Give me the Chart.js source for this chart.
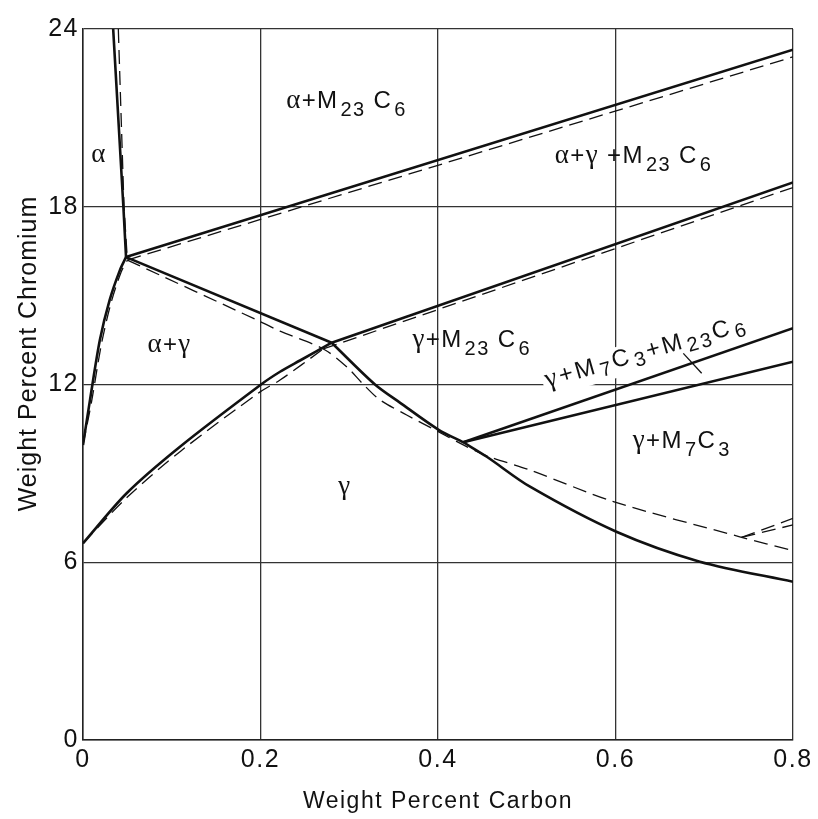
<!DOCTYPE html>
<html>
<head>
<meta charset="utf-8">
<script src="https://cdn.jsdelivr.net/npm/chart.js@4.4.1/dist/chart.umd.min.js"></script>
<style>
  html, body { margin: 0; padding: 0; background: #fff; }
</style>
</head>
<body>
<canvas id="chart" width="818" height="819"></canvas>
<script>
// 坐标轴刻度
const xTicks = ['0', '0.2', '0.4', '0.6', '0.8'];
const yTicks = ['0', '6', '12', '18', '24'];

// 实线：相界 [碳, 铬]
const alphaSolid = [[0.034, 24], [0.0455, 18], [0.0485, 16.3]];
const alphaM23Solid = [[0.0485, 16.3], [0.8, 23.3]];
const alphaGammaSolid = [[0, 9.96], [0.0079, 11.48], [0.019, 13.5], [0.030, 14.85], [0.0417, 15.87], [0.0485, 16.3]];
const triLineSolid = [[0.0485, 16.3], [0.2802, 13.41]];
const gammaM23Solid = [[0.2802, 13.41], [0.8, 18.82]];
const gammaRiseSolid = [[0, 6.64], [0.0492, 8.33], [0.1093, 9.9], [0.2006, 12.0], [0.222, 12.43], [0.2445, 12.81], [0.2802, 13.41]];
const gammaFallSolidA = [[0.2802, 13.41], [0.329, 12.0], [0.357, 11.39], [0.4003, 10.48], [0.4285, 10.05]];
const gammaFallSolidB = [[0.4285, 10.05], [0.455, 9.56], [0.5037, 8.55], [0.601, 7.03], [0.695, 6.02], [0.8, 5.34]];
const m7UpperSolid = [[0.4285, 10.05], [0.8, 13.9]];
const m7LowerSolid = [[0.4285, 10.05], [0.8, 12.77]];
const pointerSolid = [[0.6764, 13.05], [0.6971, 12.38]];

// 虚线
const alphaDashed = [[0.0398, 24], [0.0462, 18], [0.05, 16.2]];
const alphaM23Dashed = [[0.05, 16.2], [0.8, 23.06]];
const alphaGammaDashed = [[0, 9.96], [0.0095, 11.4], [0.021, 13.4], [0.032, 14.8], [0.043, 15.8], [0.05, 16.2]];
const fallDashed = [[0.05, 16.2], [0.2, 14.12], [0.222, 13.8], [0.2708, 13.2], [0.297, 12.6], [0.316, 12.0], [0.3346, 11.48], [0.3647, 10.97], [0.4003, 10.41], [0.4285, 9.96], [0.455, 9.59], [0.5037, 9.11], [0.5976, 8.05], [0.74, 6.86], [0.8, 6.39]];
const riseDashed = [[0, 6.64], [0.05, 8.2], [0.11, 9.75], [0.2, 11.76], [0.222, 12.15], [0.2708, 13.2]];
const gammaM23Dashed = [[0.2708, 13.2], [0.8, 18.65]];
const cornerDashedA = [[0.742, 6.84], [0.8, 7.48]];
const cornerDashedB = [[0.742, 6.84], [0.8, 7.26]];

// 相区标签
const phaseLabels = [
  { text: 'α', x: 0.018, y: 19.51 },
  { text: 'α+M_{23} C_{6}', x: 0.2969, y: 21.33 },
  { text: 'α+γ +M_{23} C_{6}', x: 0.6203, y: 19.47 },
  { text: 'α+γ', x: 0.0975, y: 13.1 },
  { text: 'γ', x: 0.2952, y: 8.3 },
  { text: 'γ+M_{23} C_{6}', x: 0.438, y: 13.28 },
  { text: 'γ+M_{7}C_{3}', x: 0.6746, y: 9.85 },
  { text: 'γ+M_{7}C_{3}+M_{23}C_{6}', x: 0.6344, y: 13.1, angle: -16, box: true, spacing: 2.6, subDrop: 5 }
];

const yTitle = 'Weight Percent Chromium';
const ink = '#111';

function toPts(arr) {
  return arr.map(p => ({ x: p[0], y: p[1] }));
}

function solid(arr, curved) {
  return {
    data: toPts(arr),
    showLine: true,
    borderColor: ink,
    borderWidth: 2.6,
    pointRadius: 0,
    tension: curved ? 0.3 : 0
  };
}

function dashed(arr, curved) {
  const d = solid(arr, curved);
  d.borderWidth = 1.3;
  d.borderDash = [14, 7];
  return d;
}

// 拆分文本：下标 _{..}，希腊字母用衬线体
function parseLabel(str) {
  const segs = [];
  let i = 0;
  while (i < str.length) {
    if (str[i] === '_' && str[i + 1] === '{') {
      const end = str.indexOf('}', i);
      segs.push({ t: str.slice(i + 2, end), kind: 'sub' });
      i = end + 1;
    } else {
      const ch = str[i];
      segs.push({ t: ch, kind: (ch === 'α' || ch === 'γ') ? 'greek' : 'main' });
      i++;
    }
  }
  return segs;
}

function segFont(kind) {
  if (kind === 'sub') return '20px "Liberation Sans"';
  if (kind === 'greek') return '27px "Liberation Serif"';
  return '24px "Liberation Sans"';
}

function drawLabel(chart, lab, boxOnly) {
  const ctx = chart.ctx;
  const px = chart.scales.x.getPixelForValue(lab.x);
  const py = chart.scales.y.getPixelForValue(lab.y);
  const segs = parseLabel(lab.text);
  const drop = lab.subDrop || 8;
  ctx.save();
  ctx.letterSpacing = (lab.spacing || 1.4) + 'px';
  let w = 0;
  segs.forEach(s => {
    ctx.font = segFont(s.kind);
    s.w = ctx.measureText(s.t).width + (s.kind === 'sub' ? 2 : 0);
    w += s.w;
  });
  ctx.translate(px, py);
  if (lab.angle) ctx.rotate(lab.angle * Math.PI / 180);
  const base = lab.angle ? 7 : 0;
  if (boxOnly) {
    ctx.fillStyle = '#fff';
    ctx.fillRect(-w / 2 - 3, base - 20, w + 6, 30);
  } else {
    ctx.fillStyle = ink;
    ctx.textBaseline = 'alphabetic';
    let cx = -w / 2;
    segs.forEach(s => {
      ctx.font = segFont(s.kind);
      ctx.fillText(s.t, cx + (s.kind === 'sub' ? 2 : 0), base + (s.kind === 'sub' ? drop : 0));
      cx += s.w;
    });
  }
  ctx.restore();
}

const labelPlugin = {
  id: 'phaseLabels',
  beforeDraw(chart) {
    chart.ctx.letterSpacing = '1.5px';
  },
  beforeDatasetsDraw(chart) {
    phaseLabels.filter(l => l.box).forEach(l => drawLabel(chart, l, true));
  },
  afterDatasetsDraw(chart) {
    phaseLabels.forEach(l => drawLabel(chart, l, false));
  },
  afterDraw(chart) {
    // 纵轴标题稍偏上
    const ctx = chart.ctx;
    const area = chart.chartArea;
    ctx.save();
    ctx.letterSpacing = '1px';
    ctx.translate(29, (area.top + area.bottom) / 2 - 31);
    ctx.rotate(-Math.PI / 2);
    ctx.font = '25px "Liberation Sans"';
    ctx.fillStyle = ink;
    ctx.textAlign = 'center';
    ctx.textBaseline = 'middle';
    ctx.fillText(yTitle, 0, 0);
    ctx.restore();
  }
};

const tickFont = { family: '"Liberation Sans", Arial, sans-serif', size: 25 };

new Chart(document.getElementById('chart'), {
  type: 'scatter',
  data: {
    datasets: [
      solid(alphaSolid),
      solid(alphaM23Solid),
      solid(alphaGammaSolid, true),
      solid(triLineSolid),
      solid(gammaM23Solid),
      solid(gammaRiseSolid, true),
      solid(gammaFallSolidA, true),
      solid(gammaFallSolidB, true),
      solid(m7UpperSolid),
      solid(m7LowerSolid),
      Object.assign(solid(pointerSolid), { borderWidth: 1.3 }),
      dashed(alphaDashed),
      dashed(alphaM23Dashed),
      dashed(alphaGammaDashed, true),
      dashed(fallDashed, true),
      dashed(riseDashed, true),
      dashed(gammaM23Dashed),
      dashed(cornerDashedA),
      dashed(cornerDashedB)
    ]
  },
  options: {
    responsive: false,
    devicePixelRatio: 1,
    animation: false,
    layout: { padding: { top: 29, right: 25, left: 0, bottom: 0 } },
    plugins: {
      legend: { display: false },
      tooltip: { enabled: false }
    },
    scales: {
      x: {
        type: 'linear',
        min: 0,
        max: 0.8,
        afterFit(s) { s.height = 79; },
        ticks: {
          stepSize: 0.2,
          autoSkip: false,
          maxRotation: 0,
          padding: 5,
          color: ink,
          font: tickFont,
          callback: (v, i) => xTicks[i]
        },
        grid: { color: '#333', lineWidth: 1.3, drawTicks: false },
        border: { color: '#222', width: 1.5 },
        title: {
          display: true,
          text: 'Weight Percent Carbon',
          color: ink,
          font: { family: '"Liberation Sans", Arial, sans-serif', size: 23 },
          padding: { top: 0, bottom: 4 }
        }
      },
      y: {
        type: 'linear',
        min: 0,
        max: 24,
        afterFit(s) { s.width = 83; },
        ticks: {
          stepSize: 6,
          padding: 4,
          color: ink,
          font: tickFont,
          callback: (v, i) => yTicks[i]
        },
        grid: { color: '#333', lineWidth: 1.3, drawTicks: false },
        border: { color: '#222', width: 1.5 }
      }
    }
  },
  plugins: [labelPlugin]
});
</script>
</body>
</html>
